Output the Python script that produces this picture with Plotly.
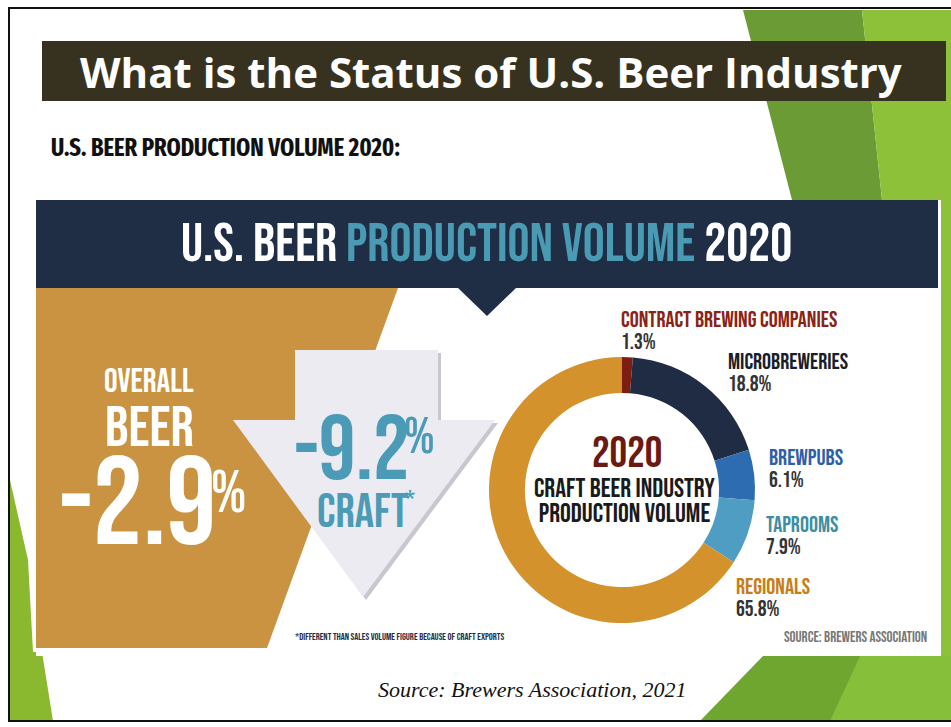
import plotly.graph_objects as go

# ---------------- data ----------------
slide_title = "What is the Status of U.S. Beer Industry"
slide_subtitle = "U.S. BEER PRODUCTION VOLUME 2020:"
segment_names = ["CONTRACT BREWING COMPANIES", "MICROBREWERIES", "BREWPUBS", "TAPROOMS", "REGIONALS"]
segment_shares = [1.3, 18.8, 6.1, 7.9, 65.8]
segment_colors = ["#7e1d12", "#1f2c44", "#2e6cb2", "#4f9dc2", "#d4922c"]
label_colors = ["#8b2315", "#1a1d2b", "#2d5ea8", "#3d8ea3", "#c97d17"]
overall_change = -2.9
craft_change = -9.2
year = "2020"

W, H = 951, 727
BEBAS = "Bebas Neue, Oswald, sans-serif"

fig = go.Figure()

def poly(pts, color):
    path = "M " + " L ".join(f"{x},{y}" for x, y in pts) + " Z"
    fig.add_shape(type="path", path=path, xref="x", yref="y", fillcolor=color,
                  line=dict(width=0), layer="below")

def rect(x0, y0, x1, y1, color):
    fig.add_shape(type="rect", x0=x0, x1=x1, y0=y0, y1=y1, xref="x", yref="y",
                  fillcolor=color, line=dict(width=0), layer="below")

# green decorations
poly([(743, 10), (862, 10), (882, 200), (792, 200)], "#6b9b34")
poly([(862, 10), (951, 10), (951, 721), (941, 721), (941, 200), (882, 200)], "#8dc13a")
poly([(700, 721), (763, 656), (951, 656), (951, 721)], "#6ea62f")
poly([(860, 656), (951, 656), (951, 721), (830, 721)], "#86bf3a")
poly([(10, 480), (28, 560), (33, 652), (42, 652), (53, 721), (10, 721)], "#8ab82e")

# title bar
rect(42, 41, 946, 101, "#37321f")

# panel
rect(36, 200, 940, 656, "#ffffff")
rect(36, 200, 938, 288, "#1f2d45")
poly([(457, 287), (517, 287), (487, 316)], "#1f2d45")
poly([(36, 288), (398, 288), (267, 648), (36, 648)], "#c99341")

# arrow with shadow
arrow = [(295, 350), (438, 350), (438, 420), (495, 420), (363, 597), (233, 420), (295, 420)]
poly([(x + 3, y + 3) for x, y in arrow], "#c8c7cf")
poly(arrow, "#ecebf2")

# borders
for x0, y0, x1, y1 in [(9, 7, 9, 722), (9, 8, 951, 8), (9, 721, 951, 721)]:
    fig.add_shape(type="line", x0=x0, y0=y0, x1=x1, y1=y1, xref="x", yref="y",
                  line=dict(color="#111111", width=2), layer="above")

# donut
cx, cy, r = 622, 490, 133
fig.add_trace(go.Pie(
    labels=segment_names, values=segment_shares, sort=False, direction="clockwise",
    rotation=0, hole=0.73, marker=dict(colors=segment_colors, line=dict(width=0)),
    textinfo="none", hoverinfo="label+percent", showlegend=False,
    domain=dict(x=[(cx - r) / W, (cx + r) / W], y=[(H - cy - r) / H, (H - cy + r) / H]),
))

def txt(x, y, s, size, color, family=BEBAS, weight="normal", xanchor="center", yanchor="middle",
        style="normal", align="center"):
    fig.add_annotation(x=x, y=y, xref="x", yref="y", text=s, showarrow=False,
                       xanchor=xanchor, yanchor=yanchor, align=align, borderpad=0,
                       font=dict(family=family, size=size, color=color, weight=weight, style=style))

def sp(s, size, color=None):
    st = f"font-size:{size}px" + (f";color:{color}" if color else "")
    return f'<span style="{st}">{s}</span>'

txt(491, 71, slide_title, 42, "#ffffff", family="Open Sans, DejaVu Sans, sans-serif", weight="bold")
txt(50, 147, slide_subtitle, 24.5, "#111111", family="Fira Sans Extra Condensed, sans-serif",
    weight="bold", xanchor="left")

txt(486, 244, 'U.S. BEER <span style="color:#4a9ab3">PRODUCTION VOLUME</span> ' + year, 55, "#ffffff")

# overall beer block
txt(149, 381, "OVERALL", 34, "#ffffff")
txt(149, 428, "BEER", 58, "#ffffff")
txt(58, 506, f"{overall_change}", 125, "#ffffff", xanchor="left")
txt(210, 494, "%", 60, "#ffffff", xanchor="left")

# craft block
txt(293, 451, f"{craft_change}", 92, "#4b9ab6", xanchor="left")
txt(403, 437, "%", 52, "#4b9ab6", xanchor="left")
txt(316, 512, "CRAFT", 48, "#4b9ab6", xanchor="left")
txt(404, 499, "*", 24, "#4b9ab6", xanchor="left")
txt(400, 637, "*DIFFERENT THAN SALES VOLUME FIGURE BECAUSE OF CRAFT EXPORTS", 10, "#1f2d45")

# donut centre
txt(627, 453, year, 44, "#6b1a12")
txt(624, 501.5, sp("CRAFT BEER INDUSTRY", 27) + "<br>" + sp("PRODUCTION VOLUME", 27), 19.3, "#1a1a1a")

label_pos = [(620, 320), (727, 362), (768, 458), (765, 525), (735, 587)]
for (lx, ly), name, share, col in zip(label_pos, segment_names, segment_shares, label_colors):
    s = sp(name, 22.5, col) + "<br>" + sp(f"{share}%", 22)
    txt(lx, ly + 11, s, 17, "#333333", xanchor="left", align="left")

txt(928, 637, "SOURCE: BREWERS ASSOCIATION", 15, "#767676", xanchor="right")
txt(532, 689, "Source: Brewers Association, 2021", 22, "#111111",
    family="Liberation Serif, Times New Roman, serif", style="italic")

fig.update_xaxes(range=[0, W], visible=False, fixedrange=True)
fig.update_yaxes(range=[H, 0], visible=False, fixedrange=True)
fig.update_layout(width=W, height=H, margin=dict(l=0, r=0, t=0, b=0),
                  plot_bgcolor="#ffffff", paper_bgcolor="#ffffff")

fig.write_html("out.html")
